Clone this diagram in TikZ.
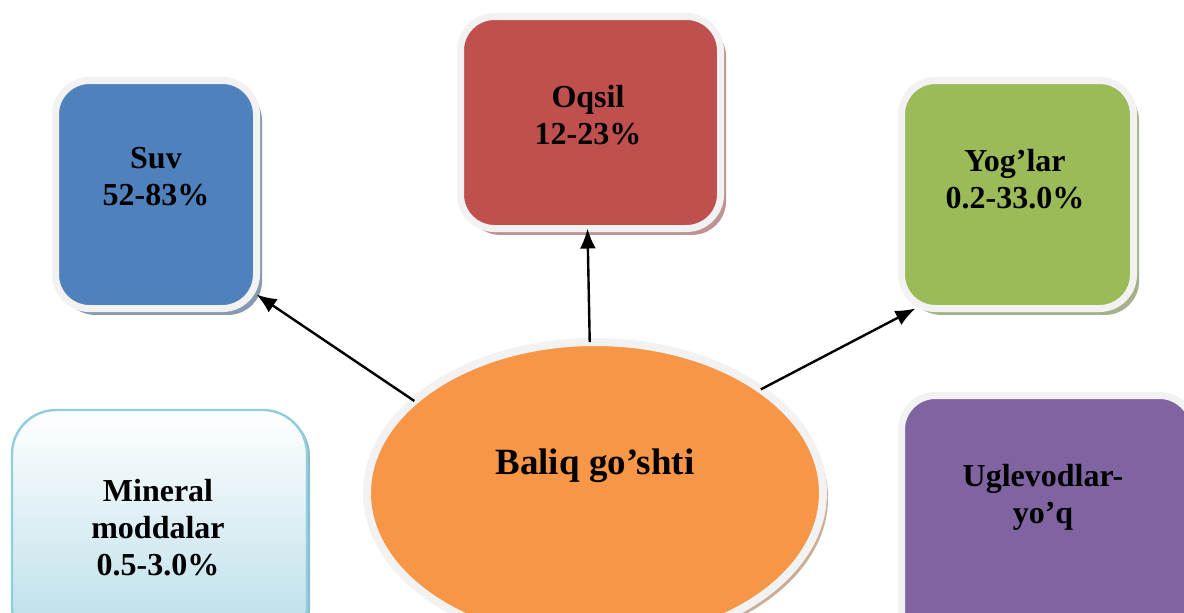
\documentclass[tikz,border=0pt]{standalone}
\usepackage{fontspec}
\setmainfont{Liberation Serif}
\usetikzlibrary{shapes.geometric,shadows,arrows.meta}
\definecolor{framegray}{HTML}{F2F2F2}
\definecolor{suvblue}{HTML}{4F81BD}
\definecolor{oqsilred}{HTML}{C0504D}
\definecolor{yoggreen}{HTML}{9BBB59}
\definecolor{uglpurple}{HTML}{8064A2}
\definecolor{fishorange}{HTML}{F79646}
\definecolor{minline}{HTML}{92CDDC}
\definecolor{minfill}{HTML}{B7DDE8}
\tikzset{
  box/.style={rectangle, rounded corners=17pt, draw=framegray, line width=3.5pt,
    inner sep=0pt, outer sep=0pt,
    drop shadow={shadow xshift=2.8pt, shadow yshift=-3.2pt, opacity=1, fill=#1}},
  txt/.style={font=\bfseries\fontsize{16}{18.5}\selectfont, align=center, inner sep=0pt},
  link/.style={line width=1.2pt, -{Latex[length=10pt,width=8pt]}}
}

\begin{document}
\begin{tikzpicture}[x=0.5pt,y=-0.5pt]
		%%%%% START %%%%%
		\clip (0,0) rectangle (1184,612);
		
		% boxes round the fish
		\node[box=suvblue!45!gray!80, fill=suvblue, minimum width=100.5pt, minimum height=114pt] (suv) at (156,194.5) {};
		\node[box=oqsilred!55!gray!70, fill=oqsilred, minimum width=130pt, minimum height=106pt] (oqsil) at (590.5,122.5) {};
		\node[box=yoggreen!50!gray!80, fill=yoggreen, minimum width=116pt, minimum height=114pt] (yog) at (1017.5,194.5) {};
		\node[box=uglpurple!50!gray!70, fill=uglpurple, minimum width=146pt, minimum height=130pt] (ugl) at (1047.5,525.5) {};
		
		\node[rectangle, rounded corners=22pt, draw=minline, line width=1.2pt,
		  top color=white, bottom color=minfill, minimum width=147.5pt, minimum height=120pt,
		  drop shadow={shadow xshift=1.5pt, shadow yshift=-1pt, opacity=1, fill=minline!80!gray}] (mineral) at (159.5,530) {};
		
		% the fish itself
		\node[ellipse, draw=framegray, fill=fishorange, line width=4pt, outer sep=0pt,
		  minimum width=228pt, minimum height=151pt,
		  drop shadow={shadow xshift=2.5pt, shadow yshift=-2.5pt, opacity=1, fill=fishorange!45!gray!70}] (fish) at (595,493) {};
		
		% texts
		\node[txt] (suvtxt) at (156,177) {Suv\\52-83\%};
		\node[txt] (oqsiltxt) at (588,115) {Oqsil\\12-23\%};
		\node[txt] (yogtxt) at (1015,179) {Yog’lar\\0.2-33.0\%};
		\node[txt] (ugltxt) at (1043,497) {Uglevodlar-\\yo’q};
		\node[txt] (mineraltxt) at (158,528) {Mineral\\moddalar\\0.5-3.0\%};
		\node[txt, font=\bfseries\fontsize{18.5}{22}\selectfont] (fishtxt) at (595,466) {Baliq go’shti};
		
		% arrows
		\draw[link] (fish.153) -- ([yshift=7pt]suv.south east);
		\draw[link] (fish.92) -- ([xshift=-1.5pt]oqsil.south);
		\draw[link] (fish.32) -- ([xshift=7pt]yog.south west);
		
		%%%%% END %%%%%
\end{tikzpicture}
\end{document}
